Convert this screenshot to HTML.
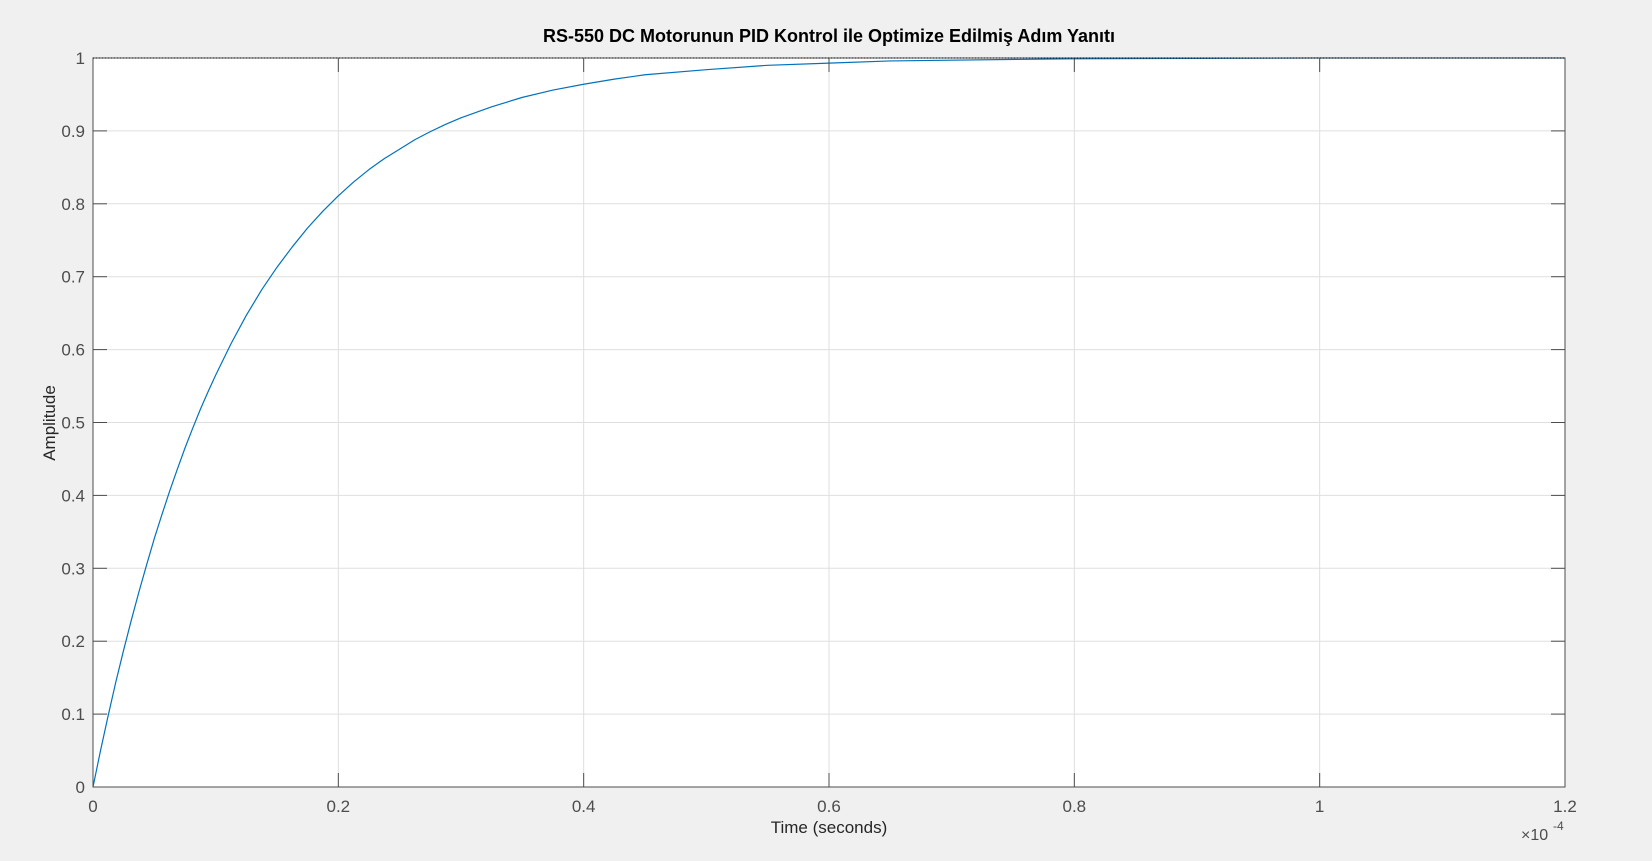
<!DOCTYPE html>
<html><head><meta charset="utf-8"><style>
html,body{margin:0;padding:0;background:#f0f0f0;}
svg{display:block;font-family:"Liberation Sans",Arial,sans-serif;}
</style></head><body>
<svg id="chart" width="1652" height="861" viewBox="0 0 1652 861" xmlns="http://www.w3.org/2000/svg">
<rect x="0" y="0" width="1652" height="861" fill="#f0f0f0"/>
<rect x="93" y="58" width="1472" height="729" fill="#ffffff"/>
<g id="grid"></g>
<g id="series"></g>
<g id="axes"></g>
<text x="829" y="42" text-anchor="middle" font-size="18" font-weight="bold" fill="#000">RS-550 DC Motorunun PID Kontrol ile Optimize Edilmiş Adım Yanıtı</text>
<text x="829" y="833" text-anchor="middle" font-size="17" fill="#262626">Time (seconds)</text>
<text transform="translate(55,423) rotate(-90)" text-anchor="middle" font-size="17" fill="#262626">Amplitude</text>
<g><text x="1521" y="840" font-size="16" fill="#4d4d4d">×10</text><text x="1553" y="830" font-size="12" fill="#4d4d4d">-4</text></g>
</svg>
<script>
const xTicks=[0,0.2,0.4,0.6,0.8,1,1.2];
const xTickLabels=["0","0.2","0.4","0.6","0.8","1","1.2"];
const yTicks=[0,0.1,0.2,0.3,0.4,0.5,0.6,0.7,0.8,0.9,1];
const yTickLabels=["0","0.1","0.2","0.3","0.4","0.5","0.6","0.7","0.8","0.9","1"];
const timeVals=[0,0.00625,0.0125,0.01875,0.025,0.03125,0.0375,0.04375,0.05,0.05625,0.0625,0.06875,0.075,0.08125,0.0875,0.09375,0.1,0.1125,0.125,0.1375,0.15,0.1625,0.175,0.1875,0.2,0.2125,0.225,0.2375,0.25,0.2625,0.275,0.2875,0.3,0.325,0.35,0.375,0.4,0.425,0.45,0.5,0.55,0.6,0.65,0.7,0.8,0.9,1.0,1.2];
const ampVals=[0,0.051,0.099,0.145,0.188,0.229,0.268,0.305,0.341,0.374,0.406,0.436,0.465,0.492,0.518,0.542,0.565,0.608,0.647,0.682,0.713,0.741,0.767,0.790,0.811,0.830,0.847,0.862,0.875,0.888,0.899,0.909,0.918,0.933,0.946,0.956,0.964,0.971,0.977,0.984,0.990,0.993,0.996,0.997,0.999,0.9995,1,1];
const L=93,R=1565,T=58,B=787;
const xs=v=>L+(v/1.2)*(R-L);
const ys=v=>B-v*(B-T);
const NS="http://www.w3.org/2000/svg";
const grid=document.getElementById('grid'),axes=document.getElementById('axes'),series=document.getElementById('series');
function mk(tag,attrs,parent){const e=document.createElementNS(NS,tag);for(const k in attrs)e.setAttribute(k,attrs[k]);parent.appendChild(e);return e;}
xTicks.forEach((v,i)=>{
  const g=mk('line',{x1:xs(v),x2:xs(v),y1:T,y2:B,stroke:'#dfdfdf','stroke-width':1},grid);
  
  
  const t1=mk('line',{x1:xs(v),x2:xs(v),y1:B,y2:B-14,stroke:'#4d4d4d'},axes);
  
  
  const t2=mk('line',{x1:xs(v),x2:xs(v),y1:T,y2:T+14,stroke:'#4d4d4d'},axes);
  
  
  const lb=mk('text',{x:xs(v),y:B+25,'text-anchor':'middle','font-size':17,fill:'#4d4d4d'},axes);
  lb.textContent=xTickLabels[i];
  
  
});
yTicks.forEach((v,i)=>{
  const g=mk('line',{x1:L,x2:R,y1:ys(v),y2:ys(v),stroke:'#dfdfdf','stroke-width':1},grid);
  
  
  const t1=mk('line',{x1:L,x2:L+14,y1:ys(v),y2:ys(v),stroke:'#4d4d4d'},axes);
  
  
  const t2=mk('line',{x1:R,x2:R-14,y1:ys(v),y2:ys(v),stroke:'#4d4d4d'},axes);
  
  
  const lb=mk('text',{x:L-8,y:ys(v)+6,'text-anchor':'end','font-size':17,fill:'#4d4d4d'},axes);
  lb.textContent=yTickLabels[i];
  
  
});
const pts=timeVals.map((t,i)=>xs(t)+','+ys(ampVals[i])).join(' ');
const pl=mk('polyline',{points:pts,fill:'none',stroke:'#0072bd','stroke-width':1.2,'stroke-linejoin':'round'},series);


const box=mk('rect',{x:L,y:T,width:R-L,height:B-T,fill:'none',stroke:'#4d4d4d','stroke-width':1},axes);


const ref=mk('line',{x1:L,x2:R,y1:ys(1),y2:ys(1),stroke:'#000','stroke-width':1,'stroke-dasharray':'1,2'},axes);


</script>
</body></html>
